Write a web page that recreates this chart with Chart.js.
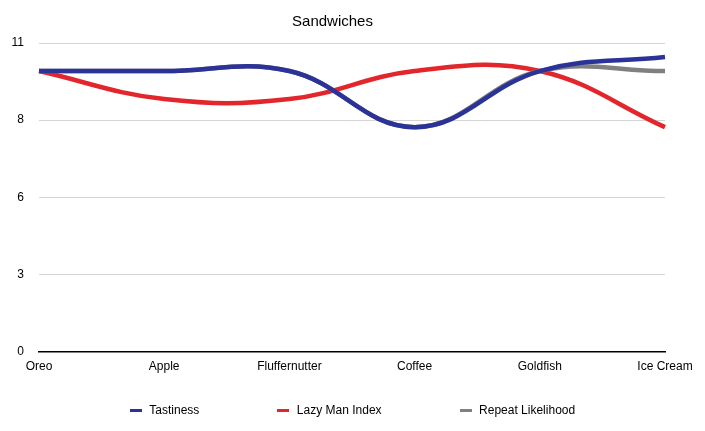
<!DOCTYPE html>
<html lang="en">
<head>
    <meta charset="UTF-8">
    <title>Sandwiches</title>
    <style>
        body {
            margin: 0;
            background-color: #fff;
            font-family: "Liberation Sans", Arial, sans-serif;
        }

        .wrap {
            position: relative;
            width: 705px;
            height: 431px;
        }

        #legend {
            position: absolute;
            left: 0;
            top: 403px;
            width: 705px;
            display: flex;
            justify-content: center;
            gap: 78px;
            font-size: 12px;
            color: #000;
        }

        #legend span.item {
            display: flex;
            align-items: center;
        }

        #legend span.mark {
            display: inline-block;
            width: 12px;
            height: 3px;
            margin-right: 7.5px;
        }
    </style>
</head>
<body>
    <div class="wrap">
        <canvas id="sandwichChart"></canvas>
        <div id="legend"></div>
    </div>

    <script src="https://cdn.jsdelivr.net/npm/chart.js"></script>
    <script>
        // Data
        const categories = ['Oreo', 'Apple', 'Fluffernutter', 'Coffee', 'Goldfish', 'Ice Cream'];
        const tastiness = [10, 10, 10, 8, 10, 10.5];
        const lazyManIndex = [10, 9, 9, 10, 10, 8];
        const repeatLikelihood = [10, 10, 10, 8, 10, 10];
        const yTicks = [0, 2.75, 5.5, 8.25, 11];

        const font = "'Liberation Sans', Arial, sans-serif";

        const ctx = document.getElementById('sandwichChart').getContext('2d');
        const chart = new Chart(ctx, {
            type: 'line',
            data: {
                labels: categories,
                datasets: [
                    { label: 'Tastiness', data: tastiness, borderColor: '#2b3398', order: 0 },
                    { label: 'Lazy Man Index', data: lazyManIndex, borderColor: '#e2262b', order: 2 },
                    { label: 'Repeat Likelihood', data: repeatLikelihood, borderColor: '#808080', order: 1 }
                ]
            },
            options: {
                responsive: true,
                maintainAspectRatio: false,
                animation: false,
                layout: { padding: { left: 0, right: 40, top: 0, bottom: 57 } },
                elements: {
                    line: { borderWidth: 4.5, tension: 0.4, fill: false },
                    point: { radius: 0, hoverRadius: 0 }
                },
                plugins: {
                    legend: { display: false },
                    tooltip: { enabled: false },
                    title: {
                        display: true,
                        text: 'Sandwiches',
                        color: '#000',
                        font: { family: font, size: 15, weight: 'normal' },
                        padding: { top: 13, bottom: 12 }
                    }
                },
                scales: {
                    x: {
                        grid: { display: false },
                        border: { display: true, color: '#000', width: 1.5 },
                        ticks: {
                            color: '#000',
                            padding: 0,
                            maxRotation: 0,
                            font: { family: font, size: 12 }
                        }
                    },
                    y: {
                        min: 0,
                        max: 11,
                        afterBuildTicks: (scale) => {
                            scale.ticks = yTicks.map(v => ({ value: v }));
                        },
                        afterFit: (scale) => {
                            scale.width = 39;
                        },
                        grid: { color: '#d4d4d4', lineWidth: 1, drawTicks: false },
                        border: { display: false },
                        ticks: {
                            color: '#000',
                            padding: 15,
                            font: { family: font, size: 12 },
                            callback: (v) => Math.round(v)
                        }
                    }
                }
            }
        });

        // HTML legend built from the chart datasets
        const legend = document.getElementById('legend');
        chart.data.datasets.forEach(ds => {
            const item = document.createElement('span');
            item.className = 'item';
            const mark = document.createElement('span');
            mark.className = 'mark';
            mark.style.backgroundColor = ds.borderColor;
            item.appendChild(mark);
            item.appendChild(document.createTextNode(ds.label));
            legend.appendChild(item);
        });
    </script>
</body>
</html>
